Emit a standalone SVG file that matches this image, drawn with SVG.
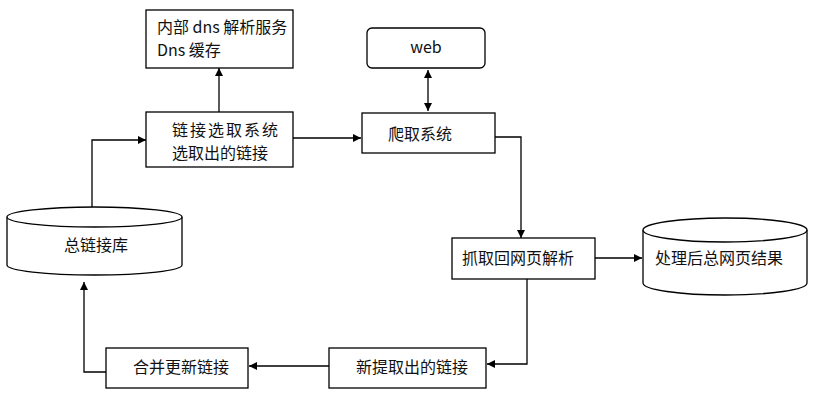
<svg xmlns="http://www.w3.org/2000/svg" width="814" height="400" viewBox="0 0 814 400">
<style>
.b{fill:#fff;stroke:#000;stroke-width:1.3}
.t{font-family:"Noto Sans CJK SC","Noto Sans",sans-serif;font-size:16px;fill:#111}
.c{fill:none;stroke:#000;stroke-width:1.3}
</style>
<defs>
<marker id="a" viewBox="0 0 10 10" refX="10" refY="5" markerWidth="8" markerHeight="8" markerUnits="userSpaceOnUse" orient="auto-start-reverse"><path d="M0,0L10,5L0,10z" fill="#000"/></marker>
</defs>
<rect width="814" height="400" fill="#fff"/>
<g id="connectors">
<path class="c" d="M219,112V68" marker-end="url(#a)"/>
<path class="c" d="M428,70V111" marker-start="url(#a)" marker-end="url(#a)"/>
<path class="c" d="M92,207V140H146" marker-end="url(#a)"/>
<path class="c" d="M293,138H361" marker-end="url(#a)"/>
<path class="c" d="M495,137H521V238" marker-end="url(#a)"/>
<path class="c" d="M595,258H642" marker-end="url(#a)"/>
<path class="c" d="M527,279V364H487" marker-end="url(#a)"/>
<path class="c" d="M329,366H249" marker-end="url(#a)"/>
<path class="c" d="M106,372H84V282" marker-end="url(#a)"/>
</g>
<g id="dns">
<rect class="b" x="146" y="10" width="147" height="58"/>
<text class="t" x="157" y="33">内部 dns 解析服务</text>
<text class="t" x="157" y="56">Dns 缓存</text>
</g>
<g id="select">
<rect class="b" x="146" y="112" width="147" height="55"/>
<text class="t" x="172" y="136" letter-spacing="2">链接选取系统</text>
<text class="t" x="172" y="159">选取出的链接</text>
</g>
<g id="web">
<rect class="b" x="367" y="28" width="118" height="40" rx="5"/>
<text class="t" x="426" y="53" text-anchor="middle">web</text>
</g>
<g id="crawl">
<rect class="b" x="362" y="113" width="133" height="40"/>
<text class="t" x="388" y="140">爬取系统</text>
</g>
<g id="linkdb">
<path class="b" d="M7,217V265A87.5,10 0 0 0 182,265V217"/>
<ellipse class="b" cx="94.5" cy="217" rx="87.5" ry="10"/>
<text class="t" x="96" y="251" text-anchor="middle">总链接库</text>
</g>
<g id="parse">
<rect class="b" x="452" y="238" width="143" height="41"/>
<text class="t" x="462" y="264">抓取回网页解析</text>
</g>
<g id="result">
<path class="b" d="M643,230V283A82,12 0 0 0 807,283V230"/>
<ellipse class="b" cx="725" cy="230" rx="82" ry="12"/>
<text class="t" x="655" y="264">处理后总网页结果</text>
</g>
<g id="newlinks">
<rect class="b" x="329" y="348" width="157" height="40"/>
<text class="t" x="356" y="373">新提取出的链接</text>
</g>
<g id="merge">
<rect class="b" x="106" y="348" width="142" height="40"/>
<text class="t" x="133" y="373">合并更新链接</text>
</g>
</svg>
